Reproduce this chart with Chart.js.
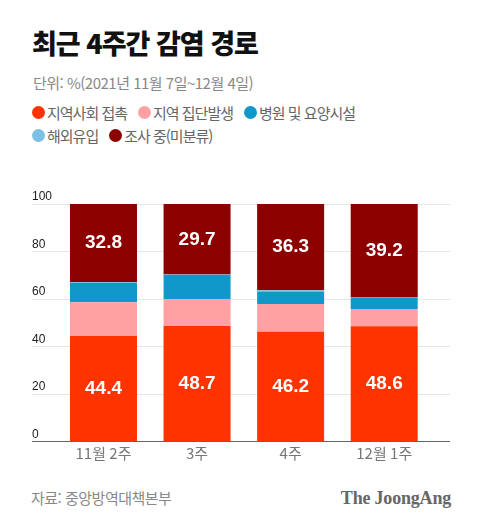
<!DOCTYPE html>
<html lang="ko">
<head>
<meta charset="utf-8">
<script src="https://cdn.jsdelivr.net/npm/chart.js@4.4.1/dist/chart.umd.min.js"></script>
<style>
body { margin:0; width:480px; height:526px; background:#fff; position:relative; overflow:hidden;
  font-family:"Noto Sans CJK KR", "Noto Sans", sans-serif; }
#title { position:absolute; left:32px; top:25px; font-size:27px; font-weight:900; color:#111; letter-spacing:-1px; line-height:36px; }
#unit { position:absolute; left:33px; top:73px; font-size:15px; color:#888; line-height:20px; letter-spacing:-0.5px; }
#legend { position:absolute; left:32px; top:101px; font-size:15px; color:#666; line-height:23px; letter-spacing:-1px; }
#legend .item { display:inline-flex; align-items:center; margin-right:11px; height:23px; vertical-align:top; }
#legend .dot { width:13px; height:13px; border-radius:50%; margin-right:2px; }
#wrap { position:absolute; left:0; top:190px; width:480px; height:290px; }
#source { position:absolute; left:31px; top:487px; font-size:15px; color:#888; line-height:22px; letter-spacing:-0.5px; }
#logo { position:absolute; right:29px; top:486px; font-family:"Liberation Serif", "DejaVu Serif", serif; font-weight:bold;
  font-size:18px; color:#666; line-height:24px; letter-spacing:-0.2px; }
</style>
</head>
<body>
<div id="title">최근 4주간 감염 경로</div>
<div id="unit">단위: %(2021년 11월 7일~12월 4일)</div>
<div id="legend"></div>
<div id="wrap"><canvas id="chart" width="480" height="290"></canvas></div>
<div id="source">자료: 중앙방역대책본부</div>
<div id="logo">The JoongAng</div>
<script>
// 주별 감염 경로 비율 (%)
var weeks = ['11월 2주', '3주', '4주', '12월 1주'];
var community = [44.4, 48.7, 46.2, 48.6];
var cluster = [14.3, 11.3, 11.7, 7.2];
var hospital = [8.1, 10.1, 5.3, 4.8];
var overseas = [0.4, 0.2, 0.5, 0.2];
var unknown = [32.8, 29.7, 36.3, 39.2];
var yTicks = [0, 20, 40, 60, 80, 100];

var seriesNames = ['지역사회 접촉', '지역 집단발생', '병원 및 요양시설', '해외유입', '조사 중(미분류)'];
var seriesColors = ['#ff3300', '#ffa0a2', '#0f98c8', '#7dc0e5', '#8c0000'];
var labeled = [0, 4];

function setTicks(scale) {
    scale.ticks = yTicks.map(function(v) { return { value: v }; });
}
function gridColor(c) {
    return c.tick && c.tick.value === 0 ? '#666' : '#e6e6e6';
}

// 막대 안 숫자
var valueLabels = {
    id: 'valueLabels',
    afterDatasetsDraw: function(chart) {
        var ctx = chart.ctx;
        ctx.save();
        ctx.font = 'bold 19px "Liberation Sans", Arial, sans-serif';
        ctx.fillStyle = '#fff';
        ctx.textAlign = 'center';
        ctx.textBaseline = 'middle';
        labeled.forEach(function(i) {
            chart.getDatasetMeta(i).data.forEach(function(bar, j) {
                var y = (bar.y + bar.base) / 2;
                ctx.fillText(chart.data.datasets[i].data[j].toFixed(1), bar.x, y);
            });
        });
        ctx.restore();
    }
};

var all = [community, cluster, hospital, overseas, unknown];
var ctx = document.getElementById('chart');
var myChart = new Chart(ctx, {
    type: 'bar',
    data: {
        labels: weeks,
        datasets: all.map(function(d, i) {
            return {
                label: seriesNames[i],
                data: d,
                backgroundColor: seriesColors[i],
                borderWidth: 0,
                categoryPercentage: 1,
                barPercentage: 0.716
            };
        })
    },
    options: {
        responsive: false,
        animation: false,
        layout: { padding: { left: 32, right: 30, top: 14, bottom: 18.4 } },
        plugins: { legend: { display: false }, tooltip: { enabled: false } },
        scales: {
            x: {
                stacked: true,
                grid: { display: false },
                border: { display: false },
                ticks: { color: '#777', padding: -5, font: { size: 15, family: '"Noto Sans CJK KR"' } },
                afterFit: function(s) { s.height = 20; }
            },
            y: {
                stacked: true,
                min: 0,
                max: 100,
                afterBuildTicks: setTicks,
                afterFit: function(s) { s.width = 24.7; },
                border: { display: false },
                grid: { color: gridColor, tickLength: 24.7 },
                ticks: { crossAlign: 'far', labelOffset: -7, padding: 0, color: '#222',
                    font: { size: 12, family: '"Liberation Sans", Arial, sans-serif' } }
            },
            y2: {
                position: 'right',
                min: 0,
                max: 100,
                afterBuildTicks: setTicks,
                afterFit: function(s) { s.width = 19; },
                border: { display: false },
                grid: { color: gridColor, tickLength: 19, drawOnChartArea: false },
                ticks: { display: false }
            }
        }
    },
    plugins: [valueLabels]
});

// 범례
var legend = document.getElementById('legend');
myChart.data.datasets.forEach(function(ds, i) {
    var item = document.createElement('span');
    item.className = 'item';
    item.innerHTML = '<span class="dot" style="background:' + ds.backgroundColor + '"></span>' + ds.label;
    legend.appendChild(item);
    if (i === 2) legend.appendChild(document.createElement('br'));
});
</script>
</body>
</html>
